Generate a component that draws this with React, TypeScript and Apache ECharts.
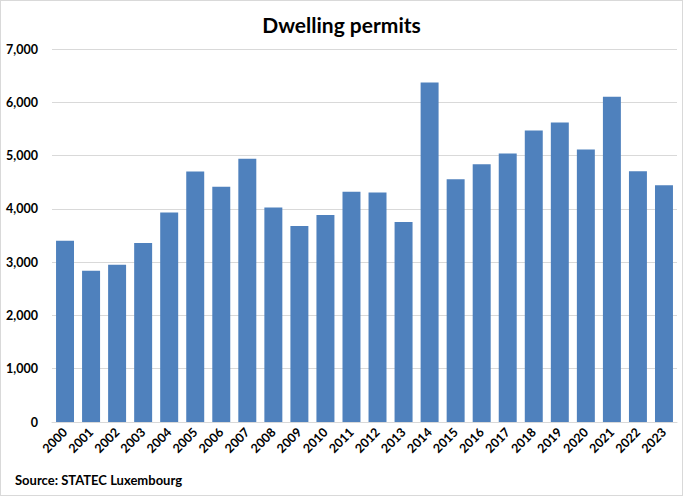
import React, { useEffect, useRef } from "react";
import * as echarts from "echarts";

const years = ["2000","2001","2002","2003","2004","2005","2006","2007","2008","2009","2010","2011","2012","2013","2014","2015","2016","2017","2018","2019","2020","2021","2022","2023"];
const permits = [3400, 2840, 2950, 3360, 3930, 4700, 4415, 4940, 4025, 3680, 3885, 4320, 4305, 3755, 6370, 4555, 4835, 5040, 5470, 5620, 5115, 6105, 4705, 4445];
const titleText = "Dwelling permits";
const sourceText = "Source: STATEC Luxembourg";

export default function App() {
  const ref = useRef<HTMLDivElement>(null);
  useEffect(() => {
    document.body.style.margin = "0";
    const chart = echarts.init(ref.current!, null, { renderer: "svg" });
    const font = "Lato, 'Open Sans', sans-serif";
    chart.setOption({
      animation: false,
      backgroundColor: "#ffffff",
      title: {
        text: titleText,
        left: "center",
        top: 8,
        textStyle: { fontFamily: font, fontWeight: "bold", fontSize: 21, color: "#000" },
      },
      graphic: [
        {
          type: "text",
          left: 14,
          top: 472,
          style: { text: sourceText, font: `bold 13px ${font}`, fill: "#000" },
        },
      ],
      grid: { left: 51, right: 5, top: 48, bottom: 73, containLabel: false },
      xAxis: {
        type: "category",
        data: years,
        axisLine: { show: true, lineStyle: { color: "#d9d9d9", width: 1 } },
        axisTick: { show: false },
        axisLabel: {
          rotate: 45,
          interval: 0,
          margin: 8,
          fontFamily: font,
          fontWeight: "bold",
          fontSize: 12.5,
          color: "#000",
        },
      },
      yAxis: {
        type: "value",
        min: 0,
        max: 7000,
        interval: 1000,
        axisLine: { show: false },
        axisTick: { show: false },
        splitLine: { lineStyle: { color: "#d9d9d9", width: 1 } },
        axisLabel: {
          margin: 14,
          fontFamily: font,
          fontWeight: "bold",
          fontSize: 12.5,
          color: "#000",
          formatter: (v: number) => v.toLocaleString("en-US"),
        },
      },
      series: [
        {
          type: "bar",
          data: permits,
          barCategoryGap: "31%",
          itemStyle: { color: "#4f81bd" },
        },
      ],
    });
    return () => chart.dispose();
  }, []);
  return (
    <div
      ref={ref}
      style={{ position: "absolute", left: 0, top: 0, width: 683, height: 496, boxSizing: "border-box", border: "1px solid #d9d9d9" }}
    />
  );
}
